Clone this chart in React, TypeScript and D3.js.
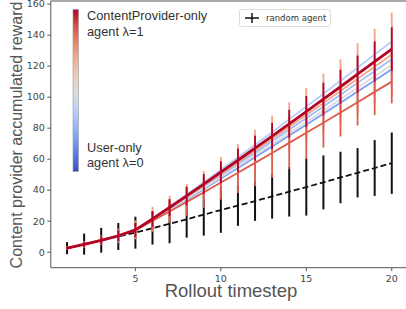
import React from "react";
import * as d3 from "d3";

const steps = [1, 2, 3, 4, 5, 6, 7, 8, 9, 10, 11, 12, 13, 14, 15, 16, 17, 18, 19, 20];

const randomMean = [2.6, 5.2, 7.7, 10.1, 12.6, 15.5, 18.3, 21.2, 24.2, 27.2, 30.0, 33.0, 36.0, 39.0, 42.0, 45.0, 48.2, 51.2, 54.3, 57.4];
const randomErr = [3.9, 6.8, 8, 8.7, 10.3, 10.6, 12.5, 11.8, 13.5, 14.7, 13, 12.8, 14.3, 16, 18.4, 17.4, 16.6, 15.9, 18, 19.8];

// agents, by lambda
const blueMean = [2.6, 5.0, 7.6, 10.5, 14.3, 20.7, 27.2, 33.9, 40.6, 47.5, 54.3, 61.2, 68.2, 75.2, 82.2, 89.3, 96.4, 103.6, 110.8, 118.0];
const blueErr = [0.6, 1, 1.5, 2, 3, 3.5, 4, 4.5, 5, 5.5, 6, 6.5, 7, 7.5, 8, 8.5, 9, 9.5, 10, 10.5];
const skyMean = [2.6, 5.0, 7.6, 10.5, 14.4, 21.1, 28.0, 35.1, 42.2, 49.5, 56.8, 64.1, 71.5, 79.0, 86.4, 94.0, 101.5, 109.2, 116.8, 124.5];
const skyErr = [0.6, 1, 1.5, 2, 3, 3.5, 4, 4.5, 5, 5.5, 6, 6.5, 7, 7.5, 8, 8.5, 9, 9.5, 10, 10.5];
const paleMean = [2.6, 5.0, 7.6, 10.6, 14.4, 21.8, 29.4, 37.2, 45.1, 53.2, 61.2, 69.3, 77.4, 85.7, 93.9, 102.2, 110.6, 119.0, 127.5, 135.9];
const paleErr = [0.6, 1, 1.5, 2, 3, 3.5, 4, 4.5, 5, 5.5, 6, 6.5, 7, 7.5, 8, 8.5, 9, 9.5, 10, 10.5];
const grayMean = [2.6, 5.0, 7.6, 10.5, 14.3, 20.9, 27.5, 34.4, 41.3, 48.3, 55.4, 62.5, 69.6, 76.8, 84.0, 91.3, 98.6, 106.0, 113.4, 120.8];
const grayErr = [0.6, 1, 1.5, 2, 3, 3.5, 4, 4.5, 5, 5.5, 6, 6.5, 7, 7.5, 8, 8.5, 9, 9.5, 10, 10.5];
const salmonMean = [2.6, 5.0, 7.6, 10.6, 14.4, 21.3, 28.4, 35.6, 43.0, 50.5, 58.0, 65.5, 73.1, 80.7, 88.4, 96.2, 103.9, 111.8, 119.6, 127.5];
const salmonErr = [1, 2, 3, 4.5, 6, 8, 8, 8.5, 9.5, 11, 12, 13.5, 15, 16, 17.5, 19, 20.5, 23, 24.5, 27];
const coralMean = [2.6, 5.0, 7.6, 10.5, 14.2, 20.2, 26.2, 32.4, 38.6, 44.9, 51.2, 57.6, 64.0, 70.5, 77.0, 83.5, 90.1, 96.7, 103.4, 110.0];
const coralErr = [1, 2, 3, 4, 5, 6, 7.5, 9, 10, 11, 13, 15, 16, 17, 17, 16, 15.5, 15, 15, 14];
const cpMean = [2.6, 5.0, 7.6, 10.6, 14.4, 21.5, 28.8, 36.3, 43.9, 51.6, 59.3, 67.1, 74.9, 82.8, 90.7, 98.7, 106.7, 114.8, 122.9, 131.0];
const cpErr = [0.8, 1.5, 2.5, 3.5, 4.5, 5, 5.5, 6, 6.5, 7, 7.5, 8, 8.5, 9, 10, 10.5, 11, 12, 13, 14];

const xTicks = [5, 10, 15, 20];
const yTicks = [0, 20, 40, 60, 80, 100, 120, 140, 160];

const coolwarm = d3.piecewise(d3.interpolateRgb, [
  "#3b4cc0", "#6384eb", "#8db0fe", "#b9d0f9", "#dddcdc", "#f5c4ac", "#f49a7b", "#de604d", "#b40426",
]);

const agents = [
  { lambda: 0.2, mean: blueMean, err: blueErr },
  { lambda: 0.3, mean: skyMean, err: skyErr },
  { lambda: 0.37, mean: paleMean, err: paleErr },
  { lambda: 0.5, mean: grayMean, err: grayErr },
  { lambda: 0.72, mean: salmonMean, err: salmonErr },
  { lambda: 0.88, mean: coralMean, err: coralErr },
  { lambda: 1.0, mean: cpMean, err: cpErr },
];

const W = 406;
const H = 309;
const left = 50.8;
const bottom = 267.7;
const top = 1;

export default function App() {
  const x = d3.scaleLinear().domain([0.05, 20.95]).range([left, 408]);
  const y = d3.scaleLinear().domain([-10, 162]).range([bottom, top]);

  const line = (vals: number[]) =>
    d3.line<number>().x((_, i) => x(steps[i])).y(d => y(d))(vals) || "";

  const tickFont = "DejaVu Sans, sans-serif";
  const labelFont = "Liberation Sans, Arial, sans-serif";

  const gradStops = d3.range(0, 1.0001, 0.1);

  return (
    <svg width={W} height={H} style={{ position: "absolute", left: 0, top: 0, background: "#fff" }}>
      <defs>
        <linearGradient id="cbar" x1="0" y1="1" x2="0" y2="0">
          {gradStops.map(t => (
            <stop key={t} offset={t} stopColor={coolwarm(t)} />
          ))}
        </linearGradient>
      </defs>

      {/* random agent */}
      <g>
        {steps.map((s, i) => (
          <line key={s} x1={x(s)} x2={x(s)} y1={y(randomMean[i] - randomErr[i])} y2={y(randomMean[i] + randomErr[i])}
            stroke="#111" strokeWidth={2} />
        ))}
        <path d={line(randomMean)} fill="none" stroke="#111" strokeWidth={1.8} strokeDasharray="6,3" />
      </g>

      {/* agents */}
      {agents.map(a => {
        const c = coolwarm(a.lambda);
        return (
          <g key={a.lambda}>
            {steps.map((s, i) => (
              <line key={s} x1={x(s)} x2={x(s)} y1={y(a.mean[i] - a.err[i])} y2={y(a.mean[i] + a.err[i])}
                stroke={c} strokeWidth={1.8} />
            ))}
            <path d={line(a.mean)} fill="none" stroke={c} strokeWidth={a.lambda === 1 ? 2.8 : 1.8} />
          </g>
        );
      })}

      {/* spines */}
      <line x1={left} x2={left} y1={top} y2={bottom} stroke="#555" strokeWidth={1} />
      <line x1={left} x2={W} y1={bottom} y2={bottom} stroke="#555" strokeWidth={1} />
      <line x1={left} x2={W} y1={top} y2={top} stroke="#555" strokeWidth={1} />

      {/* y ticks */}
      {yTicks.map(t => (
        <g key={t} transform={`translate(${left},${y(t)})`}>
          <line x1={-3.5} x2={0} stroke="#555" />
          <text x={-6} dy="0.35em" textAnchor="end" fontFamily={tickFont} fontSize={9.5} fill="#444">{t}</text>
        </g>
      ))}
      {/* x ticks */}
      {xTicks.map(t => (
        <g key={t} transform={`translate(${x(t)},${bottom})`}>
          <line y1={0} y2={3.5} stroke="#555" />
          <text y={14} textAnchor="middle" fontFamily={tickFont} fontSize={9.5} fill="#444">{t}</text>
        </g>
      ))}

      <text x={231} y={296.5} textAnchor="middle" fontFamily={labelFont} fontSize={18.5} fill="#555">Rollout timestep</text>
      <text transform={`translate(22,135) rotate(-90)`} textAnchor="middle" fontFamily={labelFont} fontSize={16} fill="#555">
        Content provider accumulated reward
      </text>

      {/* colorbar */}
      <rect x={73} y={9.5} width={5.5} height={162} fill="url(#cbar)" stroke="#999" strokeWidth={0.6} />
      <g fontFamily={labelFont} fontSize={12.8} fill="#333">
        <text x={87} y={20}>ContentProvider-only</text>
        <text x={87} y={35.5}>agent λ=1</text>
        <text x={87} y={151.5}>User-only</text>
        <text x={87} y={167}>agent λ=0</text>
      </g>

      {/* legend */}
      <g>
        <rect x={239.5} y={9.5} width={91} height={17} rx={2.5} fill="#fff" fillOpacity={0.8} stroke="#d0d0d0" strokeWidth={0.8} />
        <line x1={245} x2={259} y1={18} y2={18} stroke="#111" strokeWidth={1.5} />
        <line x1={252} x2={252} y1={13} y2={23} stroke="#111" strokeWidth={1.5} />
        <text x={266} y={21} fontFamily={tickFont} fontSize={8.5} fill="#333">random agent</text>
      </g>
    </svg>
  );
}
